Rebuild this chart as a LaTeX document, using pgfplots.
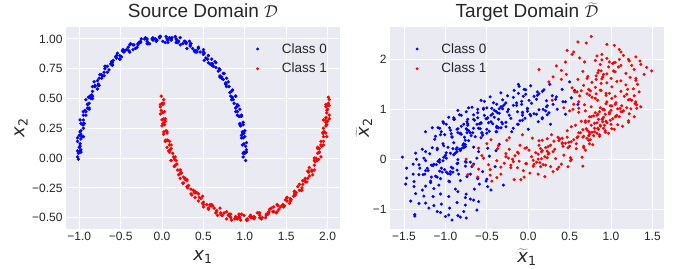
\documentclass[border=0pt]{standalone}
\usepackage{fontspec}
\setmainfont{Liberation Sans}
\newfontfamily\dejavu{DejaVu Sans}
\usepackage{pgfplots}
\pgfplotsset{compat=1.18}
\definecolor{bgc}{HTML}{EAEAF2}
\definecolor{txt}{HTML}{262626}
\definecolor{mblue}{HTML}{0000FF}
\definecolor{mred}{HTML}{FF0000}
\pgfplotsset{
 sns/.style={
  scale only axis,
  width=274pt, height=202pt,
  axis background/.style={fill=bgc},
  axis line style={draw=none},
  grid=major,
  major grid style={white, line width=1pt},
  tick style={draw=none},
  major tick length=0pt,
  ticklabel style={font=\fontsize{12}{14}\selectfont, text=txt},
  title style={font=\fontsize{19}{22}\selectfont, text=txt, at={(axis description cs:0.5,1)}, anchor=base, yshift=3pt},
  label style={font=\fontsize{18}{20}\selectfont, text=txt},
  legend style={draw=none, fill=none, font=\fontsize{13.5}{16}\selectfont, text=txt, row sep=4.5pt, inner sep=0pt},
  legend cell align=left,
 },
 bpts/.style={only marks, mark=*, color=mblue, mark size=1.25pt,
   legend image code/.code={\path (0pt,0pt) (24pt,0pt); \draw[##1,mark size=1.25pt] plot coordinates {(2pt,0pt)};}},
 rpts/.style={only marks, mark=*, color=mred, mark size=1.25pt,
   legend image code/.code={\path (0pt,0pt) (24pt,0pt); \draw[##1,mark size=1.25pt] plot coordinates {(2pt,0pt)};}},
}
\begin{document}
\begin{tikzpicture}
\path[use as bounding box] (-66pt,-39pt) rectangle (619pt,229pt);
\begin{axis}[sns, at={(0pt,0pt)}, anchor=south west,
  xmin=-1.16, xmax=2.15, ymin=-0.595, ymax=1.10,
  xtick={-1,-0.5,0,0.5,1,1.5,2}, xticklabels={−1.0,−0.5,0.0,0.5,1.0,1.5,2.0},
  ytick={-0.5,-0.25,0,0.25,0.5,0.75,1}, yticklabels={−0.50,−0.25,0.00,0.25,0.50,0.75,1.00},
  title={Source Domain $\mathcal{D}$},
  xlabel={{\dejavu\itshape x}\textsubscript{\dejavu 1}},
  ylabel={{\dejavu\itshape x}\textsubscript{\dejavu 2}},
  xlabel style={at={(axis description cs:0.5,-0.14)}, anchor=center},
  ylabel style={at={(axis description cs:-0.164,0.5)}, anchor=center},
  legend style={at={(axis description cs:0.96,0.93)}, anchor=north east}]
\addplot[bpts, mark size=1.5pt] coordinates {(1.01,-0.02) (0.98,0.04) (1.02,0.07) (0.99,0.05) (0.99,0.12) (1.02,0.13) (0.96,0.17) (0.99,0.21) (0.97,0.20) (0.98,0.21) (0.95,0.27) (0.98,0.30) (0.94,0.28) (0.94,0.35) (0.96,0.36) (0.89,0.39) (0.92,0.44) (0.89,0.42) (0.90,0.43) (0.86,0.49) (0.89,0.52) (0.84,0.49) (0.84,0.56) (0.85,0.57) (0.78,0.60) (0.80,0.64) (0.77,0.62) (0.77,0.63) (0.72,0.68) (0.75,0.71) (0.70,0.68) (0.69,0.75) (0.70,0.74) (0.62,0.77) (0.64,0.81) (0.60,0.78) (0.60,0.79) (0.55,0.83) (0.56,0.86) (0.51,0.82) (0.50,0.89) (0.51,0.88) (0.42,0.90) (0.44,0.93) (0.40,0.90) (0.39,0.90) (0.34,0.94) (0.35,0.96) (0.30,0.92) (0.28,0.98) (0.29,0.97) (0.20,0.98) (0.22,1.01) (0.18,0.99) (0.17,0.97) (0.11,1.00) (0.12,1.01) (0.07,0.97) (0.05,1.02) (0.06,1.00) (-0.03,1.01) (-0.02,1.02) (-0.06,0.99) (-0.07,0.98) (-0.12,1.00) (-0.11,1.01) (-0.17,0.96) (-0.18,1.00) (-0.18,0.98) (-0.26,0.98) (-0.25,1.00) (-0.29,0.95) (-0.30,0.93) (-0.35,0.95) (-0.34,0.95) (-0.39,0.89) (-0.41,0.93) (-0.40,0.90) (-0.48,0.90) (-0.47,0.91) (-0.51,0.86) (-0.51,0.83) (-0.56,0.85) (-0.55,0.84) (-0.60,0.78) (-0.61,0.81) (-0.60,0.78) (-0.68,0.77) (-0.66,0.77) (-0.70,0.72) (-0.70,0.69) (-0.75,0.70) (-0.72,0.69) (-0.77,0.62) (-0.78,0.65) (-0.76,0.61) (-0.84,0.60) (-0.81,0.60) (-0.85,0.53) (-0.84,0.50) (-0.89,0.51) (-0.86,0.50) (-0.90,0.42) (-0.90,0.45) (-0.88,0.41) (-0.95,0.39) (-0.92,0.39) (-0.95,0.32) (-0.94,0.29) (-0.98,0.29) (-0.95,0.28) (-0.98,0.20) (-0.98,0.23) (-0.95,0.18) (-1.02,0.17) (-0.98,0.16) (-1.00,0.09) (-0.99,0.06) (-1.02,0.06) (-0.98,0.05) (-1.01,-0.01)
(0.98,0.01) (1.02,0.05) (1.00,0.04) (0.97,0.11) (1.01,0.10) (1.00,0.18) (0.98,0.17) (0.96,0.19) (1.00,0.23) (0.97,0.22) (0.94,0.29) (0.98,0.28) (0.96,0.35) (0.93,0.35) (0.91,0.36) (0.94,0.41) (0.91,0.39) (0.87,0.46) (0.91,0.45) (0.89,0.52) (0.85,0.51) (0.83,0.52) (0.85,0.57) (0.82,0.55) (0.77,0.62) (0.81,0.60) (0.78,0.67) (0.74,0.66) (0.72,0.67) (0.74,0.71) (0.70,0.69) (0.65,0.76) (0.68,0.73) (0.65,0.80) (0.61,0.79) (0.58,0.79) (0.60,0.83) (0.56,0.80) (0.50,0.87) (0.53,0.84) (0.50,0.91) (0.46,0.89) (0.42,0.89) (0.44,0.92) (0.40,0.89) (0.34,0.95) (0.37,0.92) (0.33,0.98) (0.29,0.96) (0.25,0.96) (0.27,0.98) (0.22,0.95) (0.17,1.00) (0.19,0.97) (0.16,1.02) (0.11,0.99) (0.07,0.99) (0.09,1.01) (0.04,0.97) (-0.02,1.02) (0.01,0.98) (-0.03,1.02) (-0.08,1.00) (-0.11,0.99) (-0.10,1.00) (-0.15,0.96) (-0.20,1.01) (-0.18,0.96) (-0.21,1.00) (-0.26,0.97) (-0.29,0.96) (-0.28,0.97) (-0.32,0.92) (-0.38,0.96) (-0.35,0.91) (-0.39,0.95) (-0.43,0.91) (-0.46,0.89) (-0.45,0.90) (-0.49,0.85) (-0.54,0.88) (-0.51,0.83) (-0.55,0.86) (-0.59,0.82) (-0.62,0.79) (-0.60,0.80) (-0.64,0.74) (-0.69,0.77) (-0.66,0.72) (-0.69,0.75) (-0.73,0.70) (-0.76,0.67) (-0.73,0.67) (-0.77,0.61) (-0.82,0.64) (-0.78,0.58) (-0.81,0.61) (-0.84,0.56) (-0.87,0.52) (-0.84,0.52) (-0.88,0.46) (-0.92,0.49) (-0.88,0.42) (-0.90,0.45) (-0.93,0.40) (-0.95,0.36) (-0.92,0.36) (-0.95,0.29) (-0.99,0.32) (-0.95,0.25) (-0.96,0.28) (-0.99,0.22) (-1.00,0.19) (-0.97,0.18) (-0.99,0.12) (-1.02,0.14) (-0.98,0.07) (-0.99,0.10) (-1.01,0.04) (-1.02,0.01)};
\addlegendentry{Class 0}
\addplot[rpts, mark size=1.5pt] coordinates {(-0.01,0.52) (0.02,0.46) (-0.02,0.43) (0.01,0.45) (0.01,0.38) (-0.02,0.37) (0.04,0.33) (0.01,0.29) (0.03,0.30) (0.02,0.29) (0.05,0.23) (0.02,0.20) (0.06,0.22) (0.06,0.15) (0.04,0.14) (0.11,0.11) (0.08,0.06) (0.11,0.08) (0.10,0.07) (0.14,0.01) (0.11,-0.02) (0.16,0.01) (0.16,-0.06) (0.15,-0.07) (0.22,-0.10) (0.20,-0.14) (0.23,-0.12) (0.23,-0.13) (0.28,-0.18) (0.25,-0.21) (0.30,-0.18) (0.31,-0.25) (0.30,-0.24) (0.38,-0.27) (0.36,-0.31) (0.40,-0.28) (0.40,-0.29) (0.45,-0.33) (0.44,-0.36) (0.49,-0.32) (0.50,-0.39) (0.49,-0.38) (0.58,-0.40) (0.56,-0.43) (0.60,-0.40) (0.61,-0.40) (0.66,-0.44) (0.65,-0.46) (0.70,-0.42) (0.72,-0.48) (0.71,-0.47) (0.80,-0.48) (0.78,-0.51) (0.82,-0.49) (0.83,-0.47) (0.89,-0.50) (0.88,-0.51) (0.93,-0.47) (0.95,-0.52) (0.94,-0.50) (1.03,-0.51) (1.02,-0.52) (1.06,-0.49) (1.07,-0.48) (1.12,-0.50) (1.11,-0.51) (1.17,-0.46) (1.18,-0.50) (1.18,-0.48) (1.26,-0.48) (1.25,-0.50) (1.29,-0.45) (1.30,-0.43) (1.35,-0.45) (1.34,-0.45) (1.39,-0.39) (1.41,-0.43) (1.40,-0.40) (1.48,-0.40) (1.47,-0.41) (1.51,-0.36) (1.51,-0.33) (1.56,-0.35) (1.55,-0.34) (1.60,-0.28) (1.61,-0.31) (1.60,-0.28) (1.68,-0.27) (1.66,-0.27) (1.70,-0.22) (1.70,-0.19) (1.75,-0.20) (1.72,-0.19) (1.77,-0.12) (1.78,-0.15) (1.76,-0.11) (1.84,-0.10) (1.81,-0.10) (1.85,-0.03) (1.84,0.00) (1.89,-0.01) (1.86,0.00) (1.90,0.08) (1.90,0.05) (1.88,0.09) (1.95,0.11) (1.92,0.11) (1.95,0.18) (1.94,0.21) (1.98,0.21) (1.95,0.22) (1.98,0.30) (1.98,0.27) (1.95,0.32) (2.02,0.33) (1.98,0.34) (2.00,0.41) (1.99,0.44) (2.02,0.44) (1.98,0.45) (2.01,0.51)
(0.02,0.49) (-0.02,0.45) (0.00,0.46) (0.03,0.39) (-0.01,0.40) (0.00,0.32) (0.02,0.33) (0.04,0.31) (0.00,0.27) (0.03,0.28) (0.06,0.21) (0.02,0.22) (0.04,0.15) (0.07,0.15) (0.09,0.14) (0.06,0.09) (0.09,0.11) (0.13,0.04) (0.09,0.05) (0.11,-0.02) (0.15,-0.01) (0.17,-0.02) (0.15,-0.07) (0.18,-0.05) (0.23,-0.12) (0.19,-0.10) (0.22,-0.17) (0.26,-0.16) (0.28,-0.17) (0.26,-0.21) (0.30,-0.19) (0.35,-0.26) (0.32,-0.23) (0.35,-0.30) (0.39,-0.29) (0.42,-0.29) (0.40,-0.33) (0.44,-0.30) (0.50,-0.37) (0.47,-0.34) (0.50,-0.41) (0.54,-0.39) (0.58,-0.39) (0.56,-0.42) (0.60,-0.39) (0.66,-0.45) (0.63,-0.42) (0.67,-0.48) (0.71,-0.46) (0.75,-0.46) (0.73,-0.48) (0.78,-0.45) (0.83,-0.50) (0.81,-0.47) (0.84,-0.52) (0.89,-0.49) (0.93,-0.49) (0.91,-0.51) (0.96,-0.47) (1.02,-0.52) (0.99,-0.48) (1.03,-0.52) (1.08,-0.50) (1.11,-0.49) (1.10,-0.50) (1.15,-0.46) (1.20,-0.51) (1.18,-0.46) (1.21,-0.50) (1.26,-0.47) (1.29,-0.46) (1.28,-0.47) (1.32,-0.42) (1.38,-0.46) (1.35,-0.41) (1.39,-0.45) (1.43,-0.41) (1.46,-0.39) (1.45,-0.40) (1.49,-0.35) (1.54,-0.38) (1.51,-0.33) (1.55,-0.36) (1.59,-0.32) (1.62,-0.29) (1.60,-0.30) (1.64,-0.24) (1.69,-0.27) (1.66,-0.22) (1.69,-0.25) (1.73,-0.20) (1.76,-0.17) (1.73,-0.17) (1.77,-0.11) (1.82,-0.14) (1.78,-0.08) (1.81,-0.11) (1.84,-0.06) (1.87,-0.02) (1.84,-0.02) (1.88,0.04) (1.92,0.01) (1.88,0.08) (1.90,0.05) (1.93,0.10) (1.95,0.14) (1.92,0.14) (1.95,0.21) (1.99,0.18) (1.95,0.25) (1.96,0.22) (1.99,0.28) (2.00,0.31) (1.97,0.32) (1.99,0.38) (2.02,0.36) (1.98,0.43) (1.99,0.40) (2.01,0.46) (2.02,0.49)};
\addlegendentry{Class 1}
\end{axis}
\begin{axis}[sns, at={(324pt,0pt)}, anchor=south west,
  xmin=-1.67, xmax=1.64, ymin=-1.40, ymax=2.65,
  xtick={-1.5,-1,-0.5,0,0.5,1,1.5}, xticklabels={−1.5,−1.0,−0.5,0.0,0.5,1.0,1.5},
  ytick={-1,0,1,2}, yticklabels={−1,0,1,2},
  title={Target Domain $\widetilde{\mathcal{D}}$},
  xlabel={$\widetilde{\mbox{\dejavu\itshape x}}$\textsubscript{\dejavu 1}},
  ylabel={$\widetilde{\mbox{\dejavu\itshape x}}$\textsubscript{\dejavu 2}},
  xlabel style={at={(axis description cs:0.5,-0.14)}, anchor=center},
  ylabel style={at={(axis description cs:-0.095,0.5)}, anchor=center},
  legend style={at={(axis description cs:0.09,0.93)}, anchor=north west}]
\addplot[bpts, mark size=1.35pt] coordinates {
(0.42,1.15) (0.10,0.90) (0.35,1.00) (0.11,1.35) (0.34,1.25) (0.27,0.70) (0.30,1.10) (0.41,1.40) (-0.13,0.95) (0.17,0.83) (0.22,1.17) (0.60,1.10) (0.21,0.97) (0.26,1.50) (-0.27,0.65) (0.52,1.23) (0.22,1.05) (0.45,0.90) (-0.03,1.30) (0.12,0.75) (0.56,1.38) (0.18,1.00) (0.29,1.27) (-0.10,0.77) (0.23,1.07) (0.33,1.20) (0.50,1.55) (-0.08,1.10) (0.25,0.93) (0.03,0.87)
(0.19,1.39) (-0.35,0.92) (-0.07,0.78) (-0.38,1.10) (-0.01,1.01) (-0.01,0.96) (0.03,1.47) (-0.50,0.60) (-0.08,1.16) (-0.39,0.96) (0.23,0.89) (-0.25,1.27) (-0.12,0.70) (0.17,1.36) (-0.43,0.91) (0.07,1.26) (-0.32,0.74) (-0.01,1.02) (-0.27,1.13) (-0.11,1.46) (-0.29,1.09) (0.02,0.90) (-0.21,0.82) (-0.18,1.08) (-0.51,0.81) (0.13,0.99) (-0.12,1.32) (0.10,1.20) (-0.33,0.63) (-0.31,1.01)
(-0.74,0.53) (-0.31,1.06) (-0.61,0.83) (-0.38,0.63) (-0.85,0.98) (-0.36,0.63) (-0.06,1.26) (-0.65,0.78) (-0.54,1.00) (-0.92,0.45) (-0.25,0.95) (-0.50,1.03) (-0.33,1.33) (-0.90,0.83) (-0.58,0.61) (-0.45,0.75) (-0.41,0.98) (-0.73,0.68) (-0.48,0.73) (-0.72,1.03) (-0.14,1.13) (-0.56,0.53) (-0.53,0.88) (-0.42,1.13) (-0.95,0.63) (-0.31,0.71) (-0.61,1.00) (-0.23,0.88) (-0.62,0.70) (-0.57,1.18)
(-0.85,0.61) (-0.73,0.80) (-1.10,0.22) (-0.77,0.44) (-1.01,0.49) (-0.53,1.16) (-1.09,0.63) (-0.76,0.38) (-0.97,0.24) (-0.92,0.44) (-0.93,0.51) (-0.67,0.53) (-0.90,0.80) (-0.66,0.62) (-1.07,-0.01) (-0.73,0.71) (-0.61,0.93) (-1.13,0.40) (-0.83,0.20) (-1.12,0.46) (-0.43,0.71) (-0.81,0.50) (-0.75,0.95) (-1.26,0.02) (-0.82,0.52) (-0.81,0.66) (-0.57,0.43) (-1.03,0.75) (-0.88,0.12) (-0.57,0.72)
(-0.90,0.09) (-1.11,-0.11) (-0.99,0.13) (-1.32,-0.31) (-0.94,-0.30) (-1.07,0.62) (-0.72,0.37) (-1.18,-0.44) (-1.07,-0.06) (-0.87,0.20) (-1.36,0.12) (-0.93,-0.16) (-1.24,0.15) (-0.70,-0.06) (-1.12,-0.34) (-0.89,0.80) (-1.47,-0.38) (-0.86,0.23) (-1.17,-0.12) (-0.82,-0.43) (-1.24,0.55) (-0.99,-0.26) (-0.55,0.48) (-1.22,-0.18) (-1.02,0.04) (-1.32,-0.11) (-0.86,0.15) (-1.10,0.19) (-0.82,0.51) (-1.47,-0.18)
(-1.24,-0.88) (-1.06,-0.39) (-0.76,-0.05) (-1.42,-0.84) (-0.85,-1.13) (-1.31,-0.18) (-0.61,-0.39) (-1.06,-0.70) (-0.85,-0.01) (-1.37,-1.14) (-0.86,-0.09) (-1.18,-0.47) (-0.70,-0.80) (-1.27,-0.31) (-0.92,-1.22) (-0.49,0.22) (-1.24,-0.54) (-0.94,-0.25) (-1.37,-1.11) (-0.76,-0.77) (-1.15,-0.13) (-0.76,0.29) (-1.48,-0.50) (-0.86,-0.87) (-1.06,-1.07) (-1.01,-0.21) (-1.36,-0.69) (-0.85,-0.65) (-1.07,-0.24) (-0.59,-0.50)
(-0.62,-1.02) (-0.45,-0.62) (-0.30,-0.52) (-0.55,-0.25) (-0.40,-0.15) (-0.65,-0.60) (-0.78,-1.05) (-1.00,-1.15) (-1.28,-0.62) (-1.35,0.00) (-1.52,0.04) (-1.20,-0.98) (-0.95,-0.45) (-0.70,-0.30) (-1.15,-0.75) (-0.50,-0.40) (-0.47,0.06) (-0.60,0.15) (-0.35,0.30) (-0.38,0.55) (-0.20,0.55) (0.00,0.60) (0.45,1.15) (-0.12,1.50) (-0.05,1.40) (-1.38,-0.45) (-1.25,-0.30) (-0.88,-0.60) (-0.68,-0.15) (-1.05,-0.90)
(-0.78,0.70) (-0.66,0.89) (-1.03,0.31) (-0.70,0.53) (-0.94,0.58) (-0.46,1.25) (-1.02,0.72) (-0.69,0.47) (-0.90,0.33) (-0.85,0.53) (-0.86,0.60) (-0.60,0.62) (-0.83,0.89) (-0.59,0.71) (-1.00,0.08) (-0.66,0.80) (-0.54,1.02) (-1.06,0.49) (-0.76,0.25) (-1.05,0.55) (-0.36,0.80) (-0.74,0.59) (-0.68,1.04) (-1.19,0.11) (-0.75,0.61) (-0.74,0.75) (-0.50,0.52) (-0.96,0.84) (-0.81,0.21) (-0.50,0.81)
(-1.14,-0.93) (-0.96,-0.44) (-0.66,-0.10) (-1.32,-0.89) (-0.75,-1.18) (-1.21,-0.23) (-0.51,-0.44) (-0.96,-0.75) (-0.75,-0.06) (-1.10,-1.05) (-0.76,-0.14) (-1.08,-0.52) (-0.60,-0.85) (-1.17,-0.36) (-0.82,-1.16) (-0.39,0.17) (-1.14,-0.59) (-0.84,-0.30) (-0.95,-0.98) (-0.66,-0.82) (-1.05,-0.18) (-0.66,0.24) (-1.38,-0.55) (-0.76,-0.92) (-0.96,-1.12) (-0.91,-0.26) (-1.26,-0.74) (-0.75,-0.70) (-0.97,-0.29) (-0.49,-0.55)
(-0.82,0.17) (-1.03,-0.03) (-0.91,0.21) (-1.24,-0.23) (-0.86,-0.22) (-0.99,0.70) (-0.64,0.45) (-1.10,-0.36) (-0.99,0.02) (-0.79,0.28) (-1.28,0.20) (-0.85,-0.08) (-1.16,0.23) (-0.62,0.02) (-1.04,-0.26) (-0.81,0.88) (-1.39,-0.30) (-0.78,0.31) (-1.09,-0.04) (-0.74,-0.35) (-1.16,0.63) (-0.91,-0.18) (-0.47,0.56) (-1.14,-0.10) (-0.94,0.12) (-1.24,-0.03) (-0.78,0.23) (-1.02,0.27) (-0.72,0.57) (-1.39,-0.10)
(0.13,1.31) (-0.41,0.84) (-0.13,0.70) (-0.44,1.02) (-0.07,0.93) (-0.07,0.88) (-0.03,1.39) (-0.56,0.52) (-0.14,1.08) (-0.45,0.88) (0.17,0.81) (-0.31,1.19) (-0.18,0.62) (0.11,1.28) (-0.49,0.83) (0.01,1.18) (-0.38,0.66) (-0.07,0.94) (-0.33,1.05) (-0.17,1.38) (-0.35,1.01) (-0.04,0.82) (-0.27,0.74) (-0.24,1.00) (-0.57,0.73) (0.07,0.91) (-0.18,1.24) (0.04,1.12) (-0.39,0.55) (-0.37,0.93)};
\addlegendentry{Class 0}
\addplot[rpts, mark size=1.35pt] coordinates {
(-0.46,-0.21) (-0.67,-0.12) (-0.23,0.43) (-0.24,0.02) (-0.33,-0.30) (-0.23,0.20) (-0.50,0.31) (-0.18,-0.05) (-0.54,0.02) (-0.13,0.14) (-0.61,-0.36) (-0.07,0.49) (-0.48,-0.11) (-0.16,0.07) (-0.37,0.21) (-0.33,-0.16) (-0.45,0.39) (-0.73,-0.31) (-0.12,0.12) (-0.21,-0.17) (-0.26,0.38) (-0.56,0.07) (-0.29,-0.08) (-0.44,-0.44) (0.16,0.01) (-0.60,0.22) (-0.36,0.27) (-0.38,-0.03) (-0.04,0.22) (-0.27,0.11)
(0.10,-0.06) (-0.27,0.05) (0.15,0.21) (0.12,-0.30) (0.66,0.59) (-0.21,-0.12) (0.12,0.10) (-0.10,0.28) (0.40,-0.10) (0.28,0.49) (-0.46,-0.32) (0.16,0.15) (0.07,-0.10) (0.47,0.44) (0.17,0.17) (-0.02,-0.09) (-0.17,-0.41) (0.43,0.08) (0.13,0.28) (0.37,0.37) (-0.11,-0.04) (0.24,0.25) (0.01,0.18) (0.27,-0.15) (0.06,-0.02) (0.05,0.42) (0.04,0.05) (-0.06,-0.23) (0.50,0.26) (0.23,0.41)
(0.17,0.38) (0.65,0.04) (0.52,0.65) (0.23,0.03) (0.83,0.52) (0.33,0.01) (0.72,0.57) (0.41,0.33) (0.67,0.26) (0.51,-0.03) (0.69,0.18) (0.38,0.41) (0.61,0.53) (0.58,0.31) (0.91,0.62) (0.27,0.28) (0.52,-0.01) (0.30,0.15) (0.73,0.76) (0.71,0.42) (0.21,-0.12) (0.75,0.39) (0.47,0.57) (0.78,0.29) (0.41,0.42) (0.41,0.31) (0.37,-0.16) (0.90,0.75) (0.48,0.23) (0.79,0.47)
(0.63,0.53) (0.86,0.49) (0.67,0.23) (1.21,0.77) (0.87,1.03) (0.83,0.73) (0.77,0.54) (1.07,0.88) (0.79,0.87) (1.01,0.61) (0.52,0.35) (0.92,0.99) (0.87,0.68) (0.73,0.47) (1.24,1.01) (0.69,0.77) (0.97,0.52) (0.57,0.68) (0.93,0.90) (0.86,0.46) (1.12,0.95) (0.67,0.46) (0.95,0.73) (0.69,0.97) (1.14,0.66) (0.74,0.85) (0.42,0.26) (0.99,0.78) (0.85,0.60) (1.21,1.19)
(1.23,1.20) (0.84,1.18) (1.05,0.85) (0.68,1.09) (1.12,1.88) (0.98,0.94) (0.76,0.68) (1.34,1.35) (0.89,1.61) (1.19,1.30) (0.61,0.94) (1.01,1.22) (0.87,0.66) (1.43,1.84) (0.81,1.22) (1.08,1.01) (0.71,1.31) (1.22,0.91) (0.95,1.71) (0.50,0.97) (1.13,1.07) (0.91,0.84) (1.30,1.58) (0.82,1.31) (1.05,1.26) (0.73,0.38) (1.36,1.05) (0.88,1.38) (1.07,1.56) (0.94,1.32)
(1.40,1.70) (0.81,1.98) (1.12,1.57) (0.40,1.78) (0.83,2.07) (0.83,0.88) (1.30,2.05) (0.67,1.48) (0.97,1.85) (0.47,2.18) (1.25,1.18) (0.89,2.10) (0.29,1.18) (1.03,1.93) (0.71,1.62) (1.35,1.97) (0.72,1.66) (0.95,1.53) (0.55,1.10) (1.25,1.88) (0.84,1.73) (1.02,1.92) (0.82,1.60) (1.15,2.08) (0.62,2.03) (1.05,1.10) (0.56,1.35) (1.04,2.28) (0.85,1.78) (0.53,1.43)
(0.70,2.33) (0.76,2.46) (0.60,2.35) (0.95,2.30) (0.13,1.80) (0.34,1.87) (0.25,1.55) (1.49,1.77) (1.32,1.50) (1.10,2.00) (0.45,1.95) (0.98,1.95) (1.20,1.40) (0.40,1.60) (-0.09,-0.41) (0.66,-0.14) (0.30,-0.25) (0.90,1.00) (0.85,0.80) (1.00,0.70) (0.95,1.15) (1.10,0.85) (0.80,0.62) (0.60,0.45) (-0.75,0.00) (-0.60,-0.20) (1.05,1.75) (0.55,2.15) (0.30,1.65) (1.30,1.15)
(0.70,0.61) (0.93,0.57) (0.74,0.31) (1.28,0.85) (0.94,1.11) (0.90,0.81) (0.84,0.62) (1.14,0.96) (0.86,0.95) (1.08,0.69) (0.59,0.43) (0.99,1.07) (0.94,0.76) (0.80,0.55) (1.31,1.09) (0.76,0.85) (1.04,0.60) (0.64,0.76) (1.00,0.98) (0.93,0.54) (1.19,1.03) (0.74,0.54) (1.02,0.81) (0.76,1.05) (1.21,0.74) (0.81,0.93) (0.49,0.34) (1.06,0.86) (0.92,0.68) (1.28,1.27)
(0.18,-0.11) (-0.19,0.00) (0.23,0.16) (0.20,-0.35) (0.74,0.50) (-0.13,-0.17) (0.20,0.05) (-0.02,0.23) (0.48,-0.15) (0.36,0.44) (-0.38,-0.37) (0.24,0.10) (0.15,-0.15) (0.55,0.39) (0.25,0.12) (0.06,-0.14) (-0.05,-0.36) (0.51,0.03) (0.21,0.23) (0.45,0.32) (-0.03,-0.09) (0.32,0.20) (0.09,0.13) (0.35,-0.20) (0.14,-0.07) (0.13,0.37) (0.12,0.00) (0.02,-0.28) (0.58,0.21) (0.31,0.36)
(1.16,1.26) (0.77,1.24) (0.98,0.91) (0.61,1.15) (1.05,1.94) (0.91,1.00) (0.69,0.74) (1.27,1.41) (0.82,1.67) (1.12,1.36) (0.54,1.00) (0.94,1.28) (0.80,0.72) (1.36,1.90) (0.74,1.28) (1.01,1.07) (0.64,1.37) (1.15,0.97) (0.88,1.77) (0.43,1.03) (1.06,1.13) (0.84,0.90) (1.23,1.64) (0.75,1.37) (0.98,1.32) (0.66,0.44) (1.29,1.11) (0.81,1.44) (1.00,1.62) (0.87,1.38)
(1.30,1.62) (0.87,1.90) (1.18,1.49) (0.46,1.70) (0.89,1.99) (0.89,0.80) (1.22,1.97) (0.73,1.40) (1.03,1.77) (0.53,2.10) (1.31,1.02) (0.95,2.02) (0.60,1.60) (1.09,1.85) (0.77,1.54) (1.28,1.80) (0.66,1.76) (1.01,1.45) (0.61,1.02) (1.18,1.72) (0.90,1.65) (1.12,2.15) (0.88,1.52) (1.21,2.00) (0.68,1.95) (1.11,1.02) (0.62,1.27) (1.10,2.20) (0.91,1.70) (0.59,1.35)};
\addlegendentry{Class 1}
\end{axis}
\end{tikzpicture}
\end{document}
